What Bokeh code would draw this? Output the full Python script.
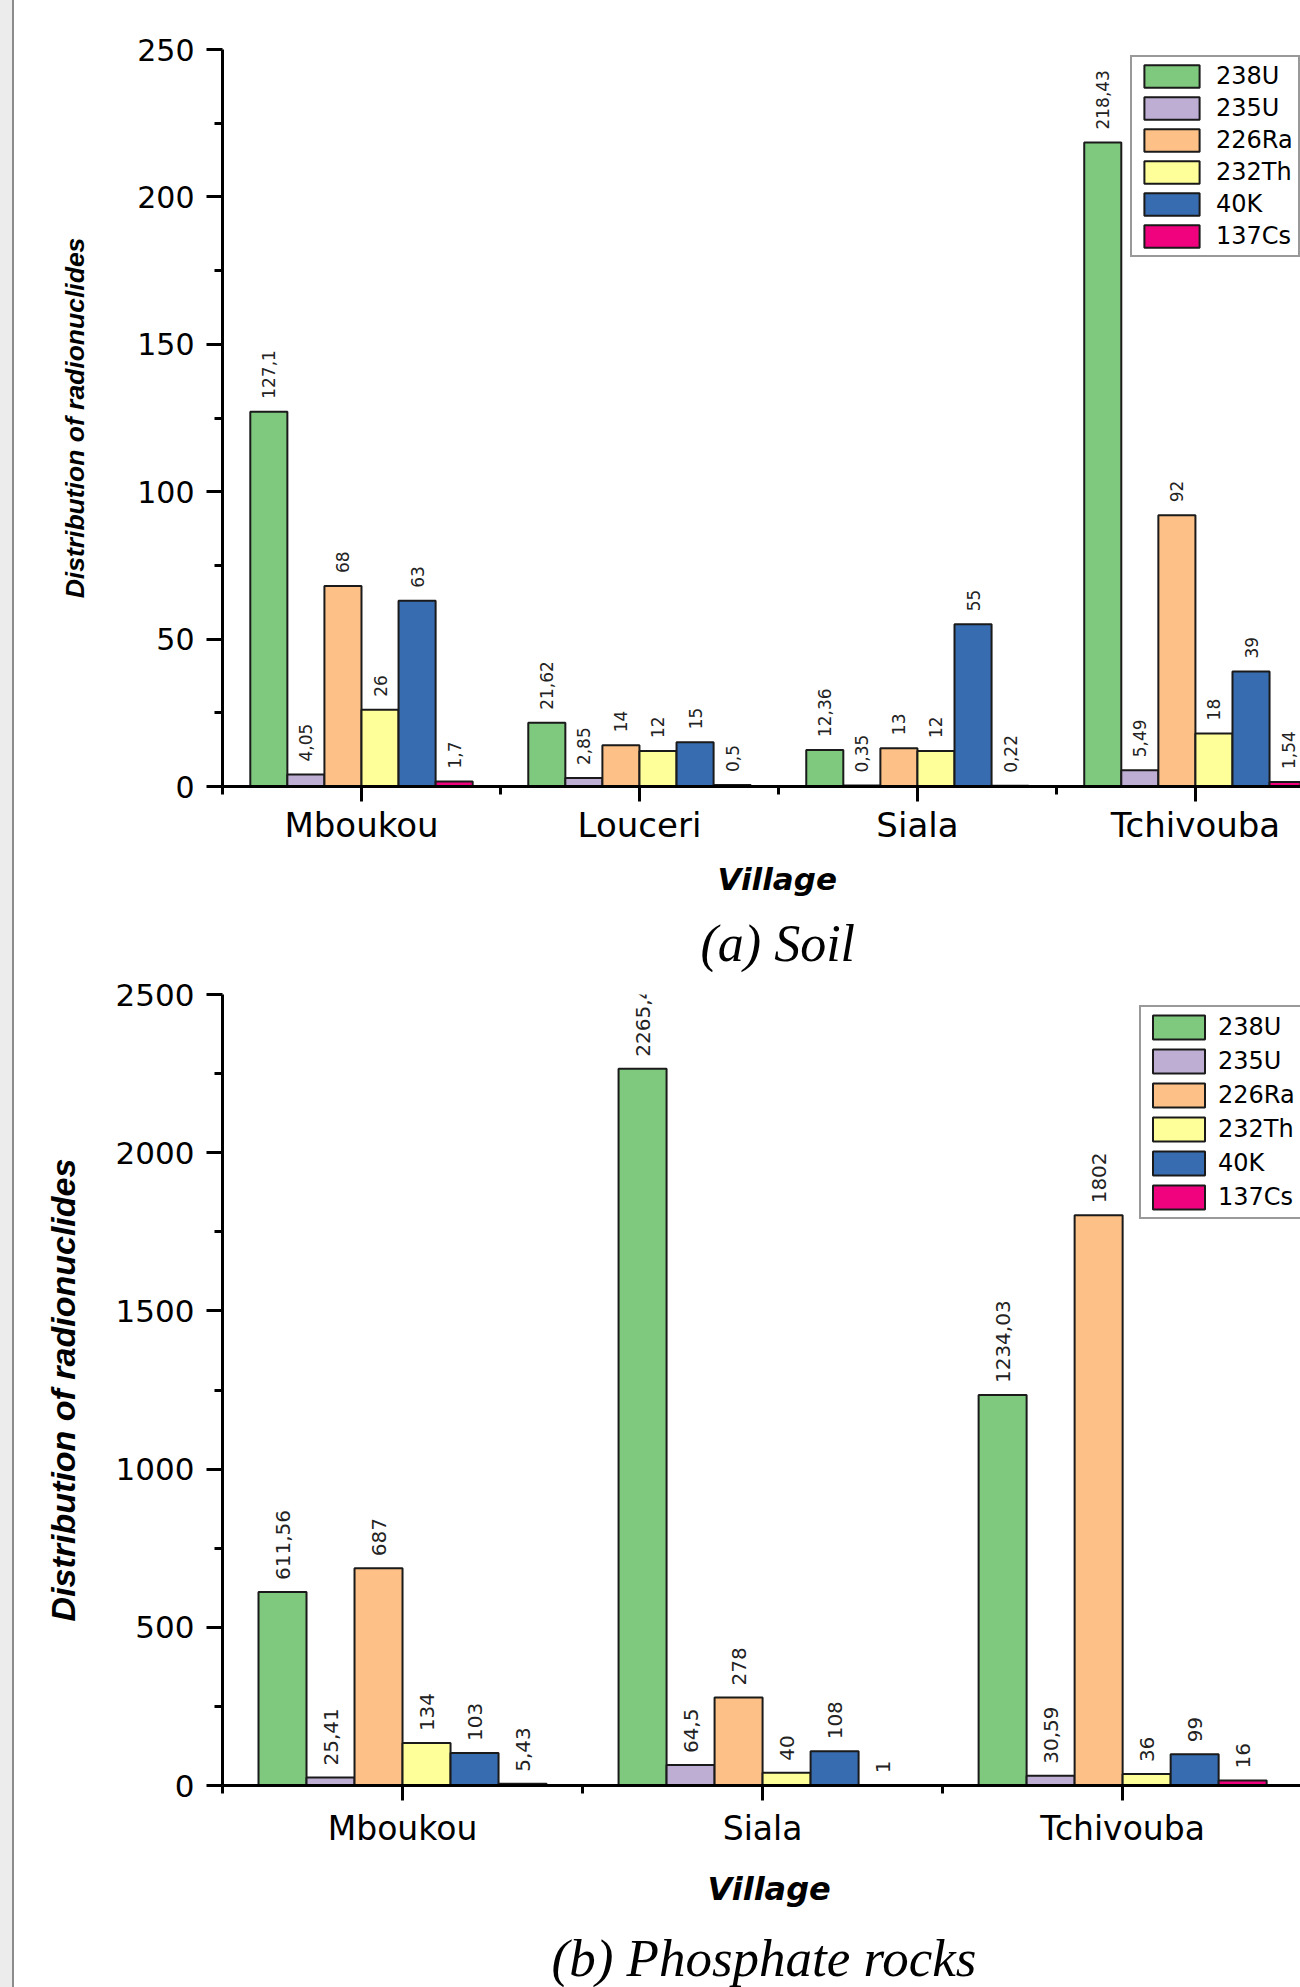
import math
from bokeh.plotting import figure
from bokeh.models import (ColumnDataSource, Range1d, FixedTicker, Legend,
                          LegendItem, Title, BasicTickFormatter, Div)
from bokeh.transform import dodge
from bokeh.layouts import row, column
from bokeh.core.properties import value
from bokeh.embed import file_html
from bokeh.resources import INLINE

# ---------------- data ----------------
nuclides = ["238U", "235U", "226Ra", "232Th", "40K", "137Cs"]
colors = ["#7fc97f", "#beaed4", "#fdc086", "#ffff99", "#386cb0", "#f0027f"]

soil_villages = ["Mboukou", "Louceri", "Siala", "Tchivouba"]
soil_238U = [127.1, 21.62, 12.36, 218.43]
soil_235U = [4.05, 2.85, 0.35, 5.49]
soil_226Ra = [68, 14, 13, 92]
soil_232Th = [26, 12, 12, 18]
soil_40K = [63, 15, 55, 39]
soil_137Cs = [1.7, 0.5, 0.22, 1.54]
soil_yticks = [0, 50, 100, 150, 200, 250]

rock_villages = ["Mboukou", "Siala", "Tchivouba"]
rock_238U = [611.56, 2265.4, 1234.03]
rock_235U = [25.41, 64.5, 30.59]
rock_226Ra = [687, 278, 1802]
rock_232Th = [134, 40, 36]
rock_40K = [103, 108, 99]
rock_137Cs = [5.43, 1, 16]
rock_yticks = [0, 500, 1000, 1500, 2000, 2500]

y_title = "Distribution of radionuclides"
x_title = "Village"


def make_chart(villages, series, yticks, caption, st):
    n = len(villages)
    centers = [i + 0.5 for i in range(n)]
    data = {"x": centers}
    for name, vals in zip(nuclides, series):
        data[name] = vals
        data[name + "_lbl"] = [f"{v:g}".replace(".", ",") for v in vals]
    src = ColumnDataSource(data)

    p = figure(width=st["width"], height=st["height"],
               x_range=Range1d(0, st["x_end"]),
               y_range=Range1d(yticks[0], yticks[-1]),
               output_backend="svg", toolbar_location=None,
               min_border_left=st["bl"], min_border_right=0,
               min_border_top=st["bt"], min_border_bottom=st["bb"])
    p.outline_line_color = None
    p.grid.visible = False
    p.background_fill_color = "white"
    p.border_fill_color = "white"

    w = 0.8 / len(nuclides)
    items = []
    for k, (name, col) in enumerate(zip(nuclides, colors)):
        off = -0.4 + (k + 0.5) * w
        r = p.vbar(x=dodge("x", off), top=name, bottom=0, width=w, source=src,
                   fill_color=col, line_color="#1a1a1a", line_width=2)
        p.text(x=dodge("x", off), y=name, text=name + "_lbl", source=src,
               angle=math.pi / 2, text_align="left", text_baseline="middle",
               y_offset=-st["gap"], text_font=value("DejaVu Sans"),
               text_font_size=st["val_fs"], text_color="#222222")
        items.append(LegendItem(label=name, renderers=[r]))

    leg = Legend(items=items, location=st["leg_loc"],
                 glyph_width=st["gw"], glyph_height=st["gh"],
                 spacing=st["sp"], padding=5, margin=0,
                 label_standoff=st["ls"], label_height=st["gh"],
                 label_text_font="DejaVu Sans", label_text_font_size="24px",
                 label_text_color="black",
                 border_line_color="#333333", border_line_width=2,
                 background_fill_color="white", background_fill_alpha=1.0)
    p.add_layout(leg, "center")

    # x axis
    xa = p.xaxis[0]
    xa.ticker = FixedTicker(ticks=centers, minor_ticks=list(range(n + 1)))
    xa.major_label_overrides = {c: v for c, v in zip(centers, villages)}
    xa.axis_line_width = 3
    xa.major_tick_line_width = 3
    xa.minor_tick_line_width = 3
    xa.major_tick_out = 15
    xa.major_tick_in = 0
    xa.minor_tick_out = 8
    xa.minor_tick_in = 0
    xa.major_label_standoff = st["xls"]
    xa.major_label_text_font = "DejaVu Sans"
    xa.major_label_text_font_size = st["xfs"]
    xa.major_label_text_color = "black"

    # y axis
    ya = p.yaxis[0]
    minors = [(a + b) / 2 for a, b in zip(yticks[:-1], yticks[1:])]
    ya.ticker = FixedTicker(ticks=yticks, minor_ticks=minors)
    ya.formatter = BasicTickFormatter(use_scientific=False)
    ya.axis_line_width = 3
    ya.major_tick_line_width = 3
    ya.minor_tick_line_width = 3
    ya.major_tick_out = 16
    ya.major_tick_in = 0
    ya.minor_tick_out = 8
    ya.minor_tick_in = 0
    ya.major_label_standoff = 12
    ya.major_label_text_font = "DejaVu Sans"
    ya.major_label_text_font_size = st["yfs"]
    ya.major_label_text_color = "black"
    ya.axis_label = y_title
    ya.axis_label_text_font = "Liberation Sans"
    ya.axis_label_text_font_style = "bold italic"
    ya.axis_label_text_font_size = st["ytfs"]
    ya.axis_label_standoff = st["yts"]
    ya.axis_label_text_color = "black"

    p.add_layout(Title(text=x_title, align="left", offset=st["vil_off"],
                       standoff=st["vil_so"], text_font="DejaVu Sans",
                       text_font_style="bold italic", text_font_size=st["vfs"],
                       text_color="black"), "below")
    p.add_layout(Title(text=caption, align="left", offset=st["cap_off"],
                       standoff=st["cap_so"], text_font="Liberation Serif",
                       text_font_style="italic", text_font_size=st["cfs"],
                       text_color="black"), "below")
    return p


STRIP = 14
LEFT = 222  # frame left edge in page pixels (both charts share it)
H1, H2 = 976, 1011
soil_style = dict(width=1300 - STRIP, height=H1, x_end=3.878, bl=LEFT - STRIP, bt=49, bb=190,
                  gap=13, val_fs="17px", leg_loc=(908, 529), gw=69, gh=28, sp=4,
                  ls=10, xls=3, xfs="34px", yfs="30px", ytfs="26.5px", yts=44,
                  vil_off=495, vil_so=23, vfs="31px",
                  cap_off=478, cap_so=9, cfs="52px")
rock_style = dict(width=1300 - STRIP, height=H2, x_end=2.994, bl=LEFT - STRIP, bt=18, bb=201,
                  gap=12, val_fs="20px", leg_loc=(917, 566), gw=65, gh=30, sp=4,
                  ls=7, xls=8, xfs="33px", yfs="31px", ytfs="34px", yts=31,
                  vil_off=485, vil_so=35, vfs="32px",
                  cap_off=329, cap_so=2, cfs="53px")

p1 = make_chart(soil_villages,
                [soil_238U, soil_235U, soil_226Ra, soil_232Th, soil_40K, soil_137Cs],
                soil_yticks, "(a) Soil", soil_style)
p2 = make_chart(rock_villages,
                [rock_238U, rock_235U, rock_226Ra, rock_232Th, rock_40K, rock_137Cs],
                rock_yticks, "(b) Phosphate rocks", rock_style)

strip = Div(text="", width=STRIP, height=H1 + H2, margin=0,
            styles={"background": "linear-gradient(to right, #ececec 12px, #8c8c8c 12px)"})

layout = row(strip, column(p1, p2, spacing=0), spacing=0)
open("out.html", "w").write(file_html(layout, INLINE))
